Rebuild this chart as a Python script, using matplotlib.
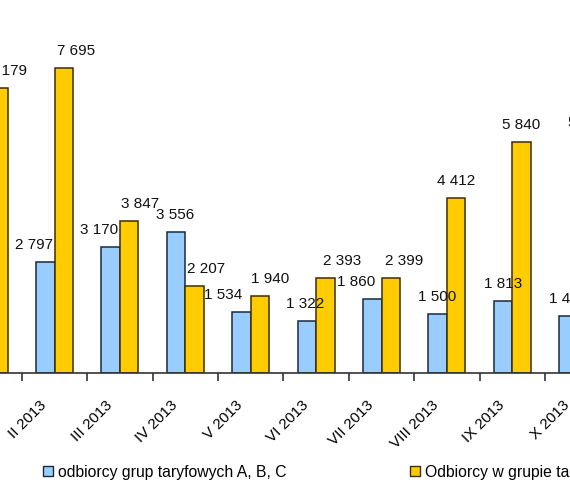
import matplotlib
matplotlib.use("Agg")
import matplotlib.pyplot as plt
import matplotlib.patches as mpatches
import matplotlib.transforms as mtransforms
import numpy as np

plt.rcParams['font.family'] = ['Liberation Sans', 'DejaVu Sans']

categories = ["I 2013", "II 2013", "III 2013", "IV 2013", "V 2013", "VI 2013",
              "VII 2013", "VIII 2013", "IX 2013", "X 2013"]
abc_values = [2900, 2797, 3170, 3556, 1534, 1322, 1860, 1500, 1813, 1440]
g_values = [7179, 7695, 3847, 2207, 1940, 2393, 2399, 4412, 5840, 5880]
abc_label = "odbiorcy grup taryfowych A, B, C"
g_label = "Odbiorcy w grupie taryfowej G"

# label x-offsets (pixels), style only
abc_dx = [-10, -11, -12, -1, -18, -2, -16, -1, 0, 0]
g_dx = [10, 12, 11, 12, 10, 17, 13, 0, 0, 0]

def fmt(v):
    return f"{v:,}".replace(",", " ")

W, H = 570, 500
fig = plt.figure(figsize=(W / 100, H / 100), dpi=100)

# axes extends beyond the figure on both sides (the reference is a crop)
ax_left_px, ax_right_px = -90, 660
ax = fig.add_axes([ax_left_px / W, (H - 373) / H,
                   (ax_right_px - ax_left_px) / W, 373 / H])

x = np.arange(len(categories))
bw = 0.283
blue = "#99CCFF"
yellow = "#FFCC00"
ax.bar(x - bw / 2, abc_values, bw, color=blue, edgecolor="#1a2a3a", linewidth=1.1)
ax.bar(x + bw / 2, g_values, bw, color=yellow, edgecolor="#3a3000", linewidth=1.1)

for i in range(len(categories)):
    ax.annotate(fmt(abc_values[i]), (x[i] - bw / 2, abc_values[i]),
                xytext=(abc_dx[i], 17), textcoords="offset pixels",
                ha="center", va="center", fontsize=11, color="#111111",
                annotation_clip=False)
    ax.annotate(fmt(g_values[i]), (x[i] + bw / 2, g_values[i]),
                xytext=(g_dx[i], 17), textcoords="offset pixels",
                ha="center", va="center", fontsize=11, color="#111111",
                annotation_clip=False)

ax.set_xticks(x)
ax.set_xticklabels(categories, rotation=45, ha="right", rotation_mode="anchor",
                   fontsize=11)
ax.tick_params(axis="x", which="major", length=0, pad=10)
shift = mtransforms.ScaledTranslation(-15 / 100, -11 / 100, fig.dpi_scale_trans)
for lab in ax.get_xticklabels():
    lab.set_transform(lab.get_transform() + shift)
ax.set_xticks(np.arange(len(categories) + 1) - 0.5, minor=True)
ax.tick_params(axis="x", which="minor", length=6, width=1.2, color="#333333")
ax.set_yticks([])

px_per_cat = 65.4
ax.set_xlim((ax_left_px + 10.9) / px_per_cat, (ax_right_px + 10.9) / px_per_cat)
ax.set_ylim(0, 373 / 0.03964)

for s in ["top", "right", "left"]:
    ax.spines[s].set_visible(False)
ax.spines["bottom"].set_color("#333333")
ax.spines["bottom"].set_linewidth(1.2)

handles = [mpatches.Patch(facecolor=blue, edgecolor="#1a2a3a", label=abc_label),
           mpatches.Patch(facecolor=yellow, edgecolor="#3a3000", label=g_label)]
fig.legend(handles=handles, loc="center left", bbox_to_anchor=(43 / W, 1 - 472 / H),
           ncol=2, frameon=False, fontsize=11.3, handlelength=0.62, handleheight=0.62,
           handletextpad=0.35, columnspacing=7.85, borderpad=0, borderaxespad=0)

fig.savefig("out.png", dpi=100, facecolor="white")
